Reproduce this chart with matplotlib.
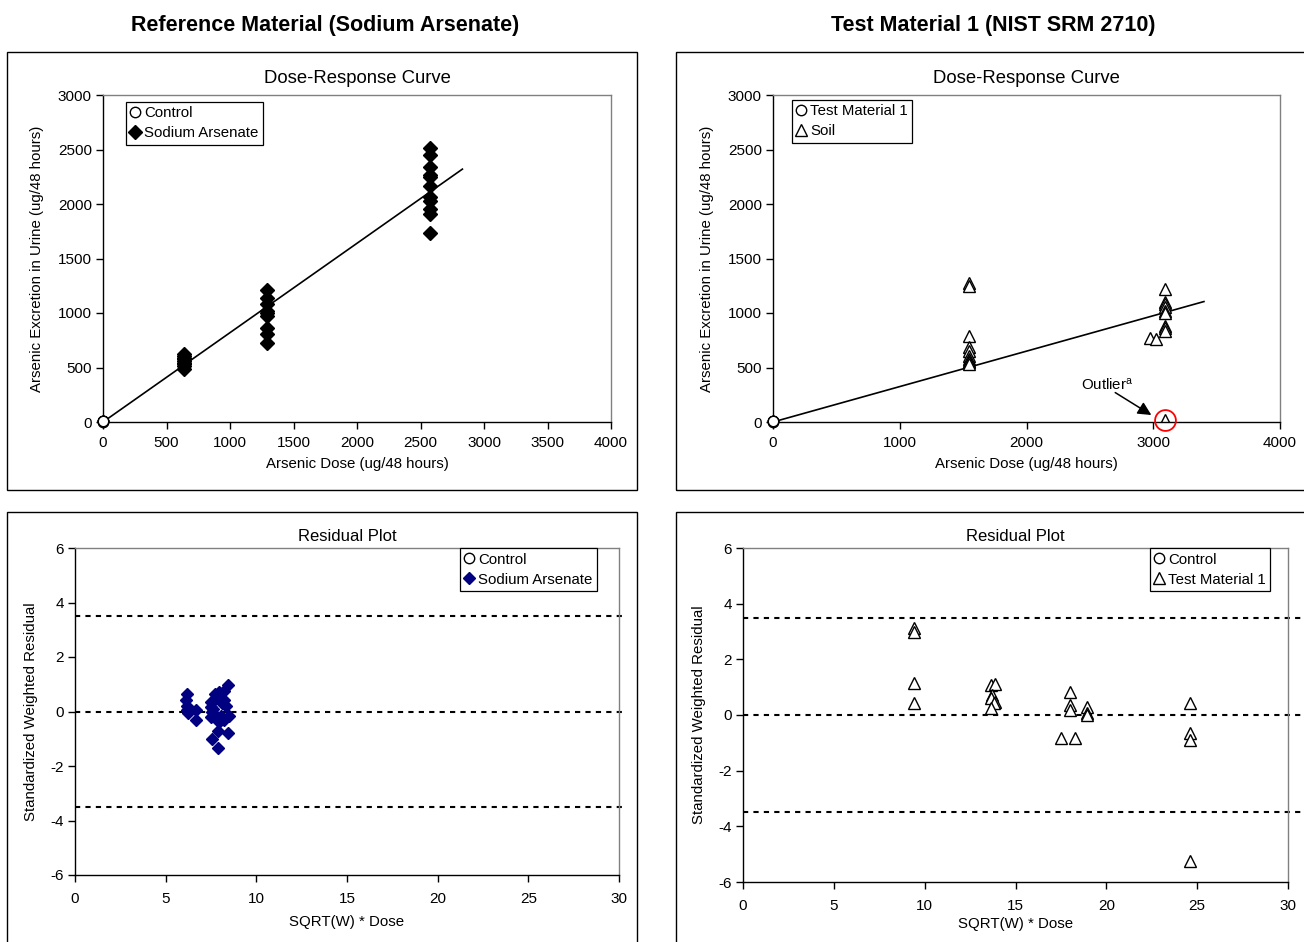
import matplotlib
matplotlib.use('Agg')
import matplotlib.pyplot as plt
from matplotlib.patches import Rectangle
from matplotlib.lines import Line2D

plt.rcParams['font.family'] = ['Liberation Sans', 'DejaVu Sans']
plt.rcParams['mathtext.default'] = 'regular'
plt.rcParams['axes.unicode_minus'] = False

# ---- data ----
# reference material (sodium arsenate)
ctrl_dose = [0, 0, 0, 0, 0]
ctrl_resp = [3, 6, 8, 5, 10]
na_doses = [640, 1290, 2575]
na_resp = [
    [490, 510, 530, 545, 560, 575, 590, 606, 620],
    [729, 805, 866, 973, 1000, 1019, 1081, 1136, 1209],
    [1730, 1907, 1953, 2030, 2060, 2167, 2250, 2268, 2336, 2452, 2513],
]
na_fit_x = [0, 2830]
na_fit_y = [0, 2320]

# test material 1 (NIST SRM 2710)
tm_ctrl_dose = [0, 0, 0, 0]
tm_ctrl_resp = [3, 6, 9, 5]
soil_dose = [1550] * 10 + [3090] * 9 + [2975, 3020]
soil_resp = [1276, 1250, 785, 684, 653, 607, 577, 560, 546, 530,
             1218, 1100, 1083, 1052, 1021, 1000, 883, 860, 837,
             770, 760]
outlier = (3090, 15)
tm_fit_x = [0, 3400]
tm_fit_y = [0, 1105]

# residuals, sodium arsenate
na_res_x = [6.17, 6.11, 6.15, 6.20, 6.25, 6.67, 6.67,
            8.46, 8.23, 7.95, 7.73, 7.68, 7.49, 8.23, 8.32, 7.49, 7.58,
            8.04, 8.50, 7.49, 8.23, 7.95, 7.86, 7.55, 8.46, 7.86, 7.60, 8.10]
na_res_y = [0.65, 0.41, 0.22, 0.04, -0.05, 0.06, -0.31,
            0.96, 0.77, 0.71, 0.65, 0.41, 0.34, 0.41, 0.22, 0.16, -0.03,
            -0.15, -0.15, -0.22, -0.33, -0.39, -0.70, -1.00, -0.80, -1.34, 0.10, 0.30]

# residuals, test material 1
tm_res_x = [9.41, 9.41, 9.41, 9.41,
            13.67, 13.85, 13.72, 13.67, 13.85, 13.80, 13.67,
            17.98, 17.98, 17.98, 18.96, 18.96, 18.96, 17.53, 18.25,
            24.58, 24.58, 24.58, 24.58]
tm_res_y = [3.12, 3.00, 1.14, 0.42,
            1.08, 1.10, 0.72, 0.60, 0.48, 0.42, 0.24,
            0.84, 0.36, 0.18, 0.30, 0.06, 0.00, -0.84, -0.84,
            0.42, -0.64, -0.90, -5.25]

res_limits = [-3.5, 0, 3.5]

W, H = 1304, 942
fig = plt.figure(figsize=(W / 100, H / 100), dpi=100)

TICK_FS = 11
LABEL_FS = 10.8
LEG_FS = 10.8


def px_axes(x0, y0, x1, y1):
    return fig.add_axes([x0 / W, (H - y1) / H, (x1 - x0) / W, (y1 - y0) / H])


def px_box(x0, y0, x1, y1):
    fig.add_artist(Rectangle((x0 / W, (H - y1) / H), (x1 - x0) / W, (y1 - y0) / H,
                             transform=fig.transFigure, fill=False,
                             edgecolor='black', linewidth=1.0))


def style(ax, xpad=5):
    for s in ['top', 'right']:
        ax.spines[s].set_color('#808080')
    for s in ['left', 'bottom']:
        ax.spines[s].set_color('black')
    for s in ax.spines.values():
        s.set_linewidth(1.0)
    ax.tick_params(direction='out', length=5, width=1, labelsize=TICK_FS)
    ax.tick_params(axis='y', pad=3)
    ax.tick_params(axis='x', pad=xpad)


def legend(ax, handles, labels, anchor):
    lg = ax.legend(handles, labels, loc='upper left', bbox_to_anchor=anchor,
                   fontsize=LEG_FS, handlelength=0.6, handletextpad=0.3,
                   borderpad=0.3, labelspacing=0.4, fancybox=False,
                   framealpha=1, borderaxespad=0)
    lg.get_frame().set_edgecolor('black')
    lg.get_frame().set_linewidth(0.9)


# panel frames and headers
px_box(7, 52, 637, 490)
px_box(676, 52, 1310, 490)
px_box(7, 512, 637, 950)
px_box(676, 512, 1310, 950)
fig.text(325 / W, 1 - 25 / H, 'Reference Material (Sodium Arsenate)',
         ha='center', va='center', fontsize=15.5, fontweight='bold')
fig.text(993 / W, 1 - 25 / H, 'Test Material 1 (NIST SRM 2710)',
         ha='center', va='center', fontsize=15.5, fontweight='bold')

circ = dict(marker='o', mfc='white', mec='black', ms=7.5, mew=1, ls='none')
dia_k = dict(marker='D', mfc='black', mec='black', ms=7, ls='none')
tri = dict(marker='^', mfc='white', mec='black', ms=8, mew=1, ls='none')
dia_b = dict(marker='D', mfc='#000080', mec='#000080', ms=6.5, ls='none')

# ---- top left ----
ax = px_axes(103, 95, 611, 422)
ax.plot(na_fit_x, na_fit_y, color='black', lw=1.2)
for d, r in zip(na_doses, na_resp):
    ax.plot([d] * len(r), r, **dia_k)
ax.plot(ctrl_dose, ctrl_resp, clip_on=False, zorder=5, **circ)
ax.set_xlim(0, 4000)
ax.set_ylim(0, 3000)
ax.set_xticks(range(0, 4001, 500))
ax.set_yticks(range(0, 3001, 500))
ax.set_title('Dose-Response Curve', fontsize=13.3, pad=9)
ax.set_xlabel('Arsenic Dose (ug/48 hours)', fontsize=LABEL_FS, labelpad=5)
ax.set_ylabel('Arsenic Excretion in Urine (ug/48 hours)', fontsize=LABEL_FS, labelpad=10)
style(ax)
legend(ax, [Line2D([], [], **circ), Line2D([], [], **dia_k)],
       ['Control', 'Sodium Arsenate'], (0.045, 0.979))

# ---- top right ----
ax = px_axes(773, 95, 1280, 422)
ax.plot(tm_fit_x, tm_fit_y, color='black', lw=1.2)
ax.plot(soil_dose, soil_resp, **tri)
ax.plot([outlier[0]], [outlier[1]], **tri)
ax.plot([outlier[0]], [outlier[1]], marker='o', ms=15, mfc='none', mec='red',
        mew=1.3, ls='none', clip_on=False, zorder=6)
ax.plot(tm_ctrl_dose, tm_ctrl_resp, clip_on=False, zorder=5, **circ)
ax.text(2640, 345, 'Outlier$^{a}$', fontsize=LEG_FS, ha='center', va='center')
ax.annotate('', xy=(2985, 64), xytext=(2700, 270),
            arrowprops=dict(arrowstyle='-|>', color='black', lw=1.1,
                            mutation_scale=20, shrinkA=0, shrinkB=0))
ax.set_xlim(0, 4000)
ax.set_ylim(0, 3000)
ax.set_xticks(range(0, 4001, 1000))
ax.set_yticks(range(0, 3001, 500))
ax.set_title('Dose-Response Curve', fontsize=13.3, pad=9)
ax.set_xlabel('Arsenic Dose (ug/48 hours)', fontsize=LABEL_FS, labelpad=5)
ax.set_ylabel('Arsenic Excretion in Urine (ug/48 hours)', fontsize=LABEL_FS, labelpad=10)
style(ax)
legend(ax, [Line2D([], [], **circ), Line2D([], [], **tri)],
       ['Test Material 1', 'Soil'], (0.0375, 0.985))

# ---- bottom left ----
ax = px_axes(75, 548, 619, 875)
ax.hlines(res_limits, 0, 30.4, colors='black', linestyles=(0, (2.5, 2.5)),
          lw=1.5, clip_on=False)
ax.plot(na_res_x, na_res_y, **dia_b)
ax.set_xlim(0, 30)
ax.set_ylim(-6, 6)
ax.set_xticks(range(0, 31, 5))
ax.set_yticks(range(-6, 7, 2))
ax.set_title('Residual Plot', fontsize=12, pad=5)
ax.set_xlabel('SQRT(W) * Dose', fontsize=LABEL_FS, labelpad=7)
ax.set_ylabel('Standardized Weighted Residual', fontsize=LABEL_FS, labelpad=9)
style(ax, xpad=7)
legend(ax, [Line2D([], [], **circ), Line2D([], [], **dia_b)],
       ['Control', 'Sodium Arsenate'], (0.708, 1.0))

# ---- bottom right ----
ax = px_axes(743, 548, 1288, 882)
ax.hlines(res_limits, 0, 31.0, colors='black', linestyles=(0, (2.5, 2.5)),
          lw=1.5, clip_on=False)
ax.plot(tm_res_x, tm_res_y, **tri)
ax.set_xlim(0, 30)
ax.set_ylim(-6, 6)
ax.set_xticks(range(0, 31, 5))
ax.set_yticks(range(-6, 7, 2))
ax.set_title('Residual Plot', fontsize=12, pad=5)
ax.set_xlabel('SQRT(W) * Dose', fontsize=LABEL_FS, labelpad=3)
ax.set_ylabel('Standardized Weighted Residual', fontsize=LABEL_FS, labelpad=9)
style(ax, xpad=7)
legend(ax, [Line2D([], [], **circ), Line2D([], [], **tri)],
       ['Control', 'Test Material 1'], (0.747, 1.0))

fig.savefig('out.png', dpi=100)
